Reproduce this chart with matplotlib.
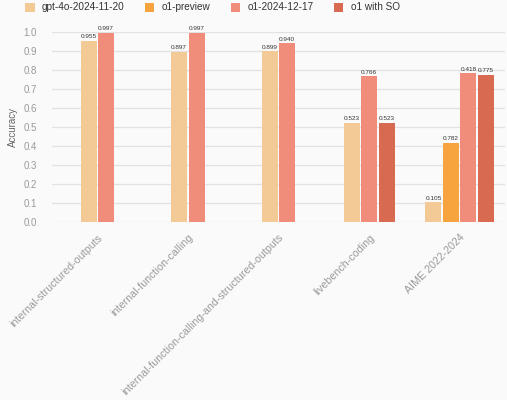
import numpy as np
import matplotlib
matplotlib.use("Agg")
import matplotlib.pyplot as plt
from matplotlib.patches import Patch

plt.rcParams['font.family'] = ['Liberation Sans', 'DejaVu Sans']

categories = ["internal-structured-outputs", "internal-function-calling",
              "internal-function-calling-and-structured-outputs",
              "livebench-coding", "AIME 2022-2024"]
series_names = ["gpt-4o-2024-11-20", "o1-preview", "o1-2024-12-17", "o1 with SO"]
gpt4o = [0.955, 0.897, 0.899, 0.523, 0.105]
o1_preview = [None, None, None, None, 0.418]
o1_2024 = [0.997, 0.997, 0.940, 0.766, 0.782]
o1_so = [None, None, None, 0.523, 0.775]
# value labels as printed on the chart
gpt4o_labels = ["0.955", "0.897", "0.899", "0.523", "0.105"]
o1_preview_labels = [None, None, None, None, "0.782"]
o1_2024_labels = ["0.997", "0.997", "0.940", "0.766", "0.418"]
o1_so_labels = [None, None, None, "0.523", "0.775"]
yticks = [0.0, 0.1, 0.2, 0.3, 0.4, 0.5, 0.6, 0.7, 0.8, 0.9, 1.0]

colors = ["#f3c995", "#f7a43e", "#f08d7a", "#d96a52"]
bg = "#fafafa"

series = [gpt4o, o1_preview, o1_2024, o1_so]
labels = [gpt4o_labels, o1_preview_labels, o1_2024_labels, o1_so_labels]

fig = plt.figure(figsize=(5.07, 4.0), dpi=100, facecolor=bg)
ax = fig.add_axes([52/507, 1-222/400, 453/507, 190/400], facecolor=bg)

step = 0.193
width = 0.176
for gi, cat in enumerate(categories):
    present = [si for si in range(len(series)) if series[si][gi] is not None]
    n = len(present)
    for k, si in enumerate(present):
        x = gi + (k - (n - 1) / 2) * step
        v = series[si][gi]
        ax.bar(x, v, width=width, color=colors[si], zorder=3)
        ax.text(x, v + 0.008, labels[si][gi], ha='center', va='bottom',
                fontsize=4.6, color='#333333', zorder=4)

ax.set_xlim(-0.5, 4.5)
ax.set_ylim(0, 1.0)
ax.set_yticks(yticks)
ax.set_yticklabels([f"{t:.1f}" for t in yticks])
ax.grid(axis='y', color='#e2e2e2', linewidth=0.9, zorder=0)
ax.set_axisbelow(True)
for s in ax.spines.values():
    s.set_visible(False)
ax.tick_params(axis='y', length=0, pad=11, labelsize=7, labelcolor='#9a9a9a')
ax.tick_params(axis='x', length=0, pad=7.5, labelsize=7.7, labelcolor='#9a9a9a')
ax.set_xticks(range(len(categories)))
ax.set_xticklabels(categories, rotation=45, ha='right', va='top', rotation_mode='anchor')
ax.set_ylabel("Accuracy", fontsize=7, color='#666666', labelpad=4)

handles = [Patch(facecolor=c, edgecolor='none') for c in colors]
fig.legend(handles, series_names, loc='center left', bbox_to_anchor=(25/507, 1-7.5/400),
           ncol=4, frameon=False, fontsize=7.2, handlelength=0.95, handleheight=1.0,
           handletextpad=0.75, columnspacing=2.0, borderpad=0, borderaxespad=0,
           labelcolor='#333333')

fig.savefig("out.png", dpi=100, facecolor=bg)
